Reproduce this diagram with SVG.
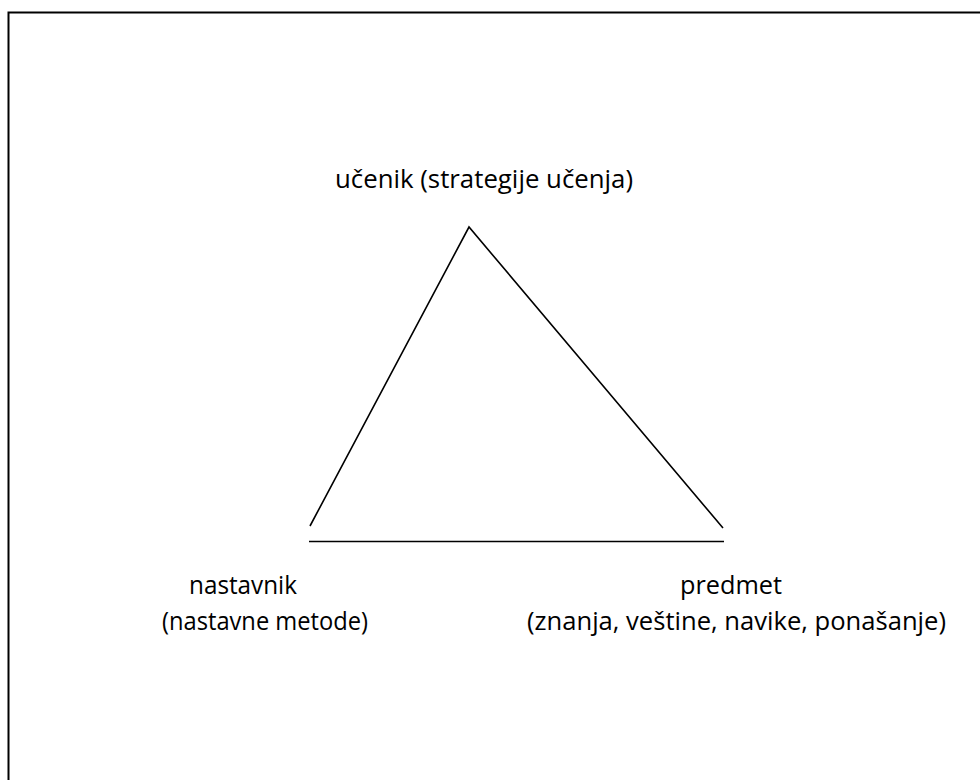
<svg xmlns="http://www.w3.org/2000/svg" width="980" height="780" viewBox="0 0 980 780">
<style>
.t{font-family:"Open Sans","Noto Sans","Liberation Sans",sans-serif;font-size:25px;fill:#000}
.ln{stroke:#000;stroke-width:1.6;fill:none}
</style>
<rect x="0" y="0" width="980" height="780" fill="#fff"/>
<path d="M8.5,790 V12.5 H990" fill="none" stroke="#000" stroke-width="2"/>
<g id="connectors">
<polyline class="ln" points="310,526 469,227 723,528"/>
<line class="ln" x1="309" y1="541.5" x2="724" y2="541.5"/>
</g>
<g id="ucenik">
<text class="t" x="335" y="188" textLength="298" lengthAdjust="spacingAndGlyphs">učenik (strategije učenja)</text>
</g>
<g id="nastavnik">
<text class="t" x="189" y="594" textLength="108" lengthAdjust="spacingAndGlyphs">nastavnik</text>
<text class="t" x="162" y="630" textLength="206" lengthAdjust="spacingAndGlyphs">(nastavne metode)</text>
</g>
<g id="predmet">
<text class="t" x="680" y="594" textLength="102" lengthAdjust="spacingAndGlyphs">predmet</text>
<text class="t" x="527" y="630" textLength="419" lengthAdjust="spacingAndGlyphs">(znanja, veštine, navike, ponašanje)</text>
</g>
</svg>
